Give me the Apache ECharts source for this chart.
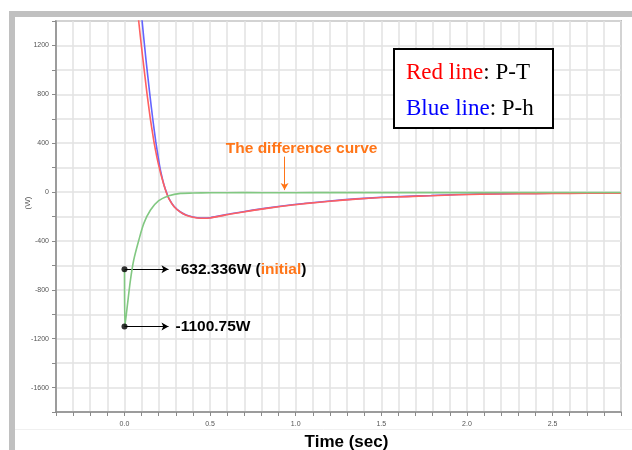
<!DOCTYPE html>
<html>
<head>
<meta charset="utf-8">
<script src="https://cdn.jsdelivr.net/npm/echarts@6/dist/echarts.min.js"></script>
<style>
  html, body { margin: 0; padding: 0; background: #fff; }
  #chart { width: 632px; height: 450px; }
</style>
</head>
<body>
<div id="chart"></div>
<script>
// time (sec) / power (W)
const redTimes   = [0, 0.04, 0.083, 0.1, 0.132, 0.15, 0.171, 0.19, 0.21, 0.23, 0.245, 0.26, 0.29, 0.327, 0.36, 0.4, 0.444, 0.5, 0.62, 0.75, 0.91, 1.05, 1.2, 1.35, 1.5, 1.65, 1.79, 1.95, 2.08, 2.3, 2.5, 2.7, 2.9]
const redValues  = [3000, 2100, 1400, 1180, 800, 610, 420, 280, 160, 60, -5, -55, -120, -165, -190, -206, -214, -212, -180, -150, -118, -95, -75, -58, -45, -37, -30, -22, -17, -14, -12, -10, -9]

const blueTimes  = [0, 0.04, 0.103, 0.125, 0.148, 0.165, 0.183, 0.2, 0.21, 0.23, 0.245, 0.26, 0.29, 0.327, 0.36, 0.4, 0.444, 0.5, 0.62, 0.75, 0.91, 1.05, 1.2, 1.35, 1.5, 1.65, 1.79, 1.95, 2.08, 2.3, 2.5, 2.7, 2.9]
const blueValues = [3632, 2500, 1400, 1090, 800, 600, 410, 260, 180, 62, -2, -53, -118, -163, -188, -204, -212, -210, -178, -148, -116, -93, -73, -56, -43, -35, -28, -20, -15, -12, -10, -8, -7]

const diffTimes  = [0, 0.002, 0.016, 0.035, 0.054, 0.084, 0.113, 0.152, 0.2, 0.259, 0.327, 0.4, 0.5, 0.7, 0.9, 1.1, 1.4, 1.8, 2.2, 2.6, 2.9]
const diffValues = [-632.336, -1100.75, -937, -719, -556, -392, -256, -147, -71, -30, -11, -8, -6, -5, -6, -5, -5, -5, -4, -4, -4]

const initialPoints = [[0, -632.336], [0, -1100.75]]

const xTicks = { min: -0.4, max: 2.9, step: 0.1, labelEvery: 0.5 }
const yTicks = { min: -1800, max: 1400, step: 200, labelEvery: 400 }

const ORANGE = '#ff7518'

function pairs(xs, ys) {
  return xs.map((x, i) => [x, ys[i]])
}

const chart = echarts.init(document.getElementById('chart'), null, { renderer: 'canvas' })

const tickLabel = { fontSize: 7, color: '#555', fontFamily: 'Liberation Sans' }
const noteFont = { fontSize: 15.5, fontWeight: 'bold', fontFamily: 'Liberation Sans' }

chart.setOption({
  animation: false,
  backgroundColor: '#fff',
  grid: {
    left: 56, top: 21, right: 11, bottom: 38,
    outerBoundsMode: 'none', containLabel: false,
    show: true, borderColor: '#8a8a8a', borderWidth: 1.5, backgroundColor: '#fff'
  },
  xAxis: {
    type: 'value',
    min: xTicks.min, max: xTicks.max, interval: xTicks.step,
    name: 'Time (sec)', nameLocation: 'middle', nameGap: 22,
    nameTextStyle: { fontSize: 17, fontWeight: 'bold', color: '#000', fontFamily: 'Liberation Sans', padding: [0, 0, 0, 16] },
    axisLine: { onZero: false, lineStyle: { color: '#8a8a8a', width: 1.5 } },
    axisTick: { show: true, length: 4, lineStyle: { color: '#8a8a8a' } },
    axisLabel: {
      ...tickLabel, margin: 9, showMinLabel: true, showMaxLabel: true,
      formatter: v => (Math.round(v * 10) % Math.round(xTicks.labelEvery * 10) === 0 ? (Math.round(v * 10) / 10).toFixed(1) : '')
    },
    splitLine: { show: true, lineStyle: { color: '#e2e2e2', width: 1.5 } }
  },
  yAxis: {
    type: 'value',
    min: yTicks.min, max: yTicks.max, interval: yTicks.step,
    axisLine: { show: true, onZero: false, lineStyle: { color: '#8a8a8a', width: 1.5 } },
    axisTick: { show: true, length: 4, lineStyle: { color: '#8a8a8a' } },
    axisLabel: {
      ...tickLabel, margin: 7,
      formatter: v => (Math.round(v) % yTicks.labelEvery === 0 ? String(Math.round(v)) : '')
    },
    splitLine: { show: true, lineStyle: { color: '#e2e2e2', width: 1.5 } }
  },
  series: [
    {
      name: 'P-h', type: 'line', data: pairs(blueTimes, blueValues),
      showSymbol: false, clip: true, smooth: 0.15,
      lineStyle: { color: '#6464ff', width: 1.6 }, z: 3
    },
    {
      name: 'P-T', type: 'line', data: pairs(redTimes, redValues),
      showSymbol: false, clip: true, smooth: 0.15,
      lineStyle: { color: '#ff6060', width: 1.6 }, z: 4
    },
    {
      name: 'difference', type: 'line', data: pairs(diffTimes, diffValues),
      showSymbol: false, clip: true, smooth: 0.3,
      lineStyle: { color: '#82c882', width: 1.6 }, z: 5,
      markLine: {
        silent: true, symbol: ['none', 'arrow'], symbolSize: [6, 7],
        lineStyle: { color: ORANGE, width: 1, type: 'solid' },
        label: {
          show: true, position: 'start', distance: 0, offset: [17, 0],
          color: ORANGE, ...noteFont,
          formatter: 'The difference curve'
        },
        data: [[{ coord: [0.935, 290] }, { coord: [0.935, 16] }]]
      }
    },
    {
      name: 'initial', type: 'scatter', data: initialPoints,
      symbol: 'circle', symbolSize: 6, itemStyle: { color: '#000' }, z: 6,
      markLine: {
        silent: true, symbol: ['none', 'arrow'], symbolSize: [6, 7],
        lineStyle: { color: '#000', width: 1, type: 'solid' },
        label: {
          show: true, position: 'end', distance: 7,
          color: '#000', ...noteFont,
          rich: { o: { color: ORANGE, ...noteFont } }
        },
        data: [
          [{ coord: initialPoints[0] }, { coord: [0.257, initialPoints[0][1]], label: { formatter: '-632.336W ({o|initial})' } }],
          [{ coord: initialPoints[1] }, { coord: [0.257, initialPoints[1][1]], label: { formatter: '-1100.75W' } }]
        ]
      }
    }
  ],
  graphic: [
    // grey frame of the original screenshot
    { type: 'rect', z: 100, shape: { x: 9, y: 11, width: 623, height: 6 }, style: { fill: '#c0c0c0' }, silent: true },
    { type: 'rect', z: 100, shape: { x: 9, y: 11, width: 6, height: 439 }, style: { fill: '#c0c0c0' }, silent: true },
    { type: 'line', z: 100, shape: { x1: 15, y1: 429.5, x2: 632, y2: 429.5 }, style: { stroke: '#f0f0f0', lineWidth: 1 }, silent: true },
    {
      type: 'text', z: 100, x: 28, y: 203, rotation: Math.PI / 2,
      style: { text: '(W)', fontSize: 8, fill: '#555', fontFamily: 'Liberation Sans', align: 'center', verticalAlign: 'middle' }
    },
    // legend box
    {
      type: 'group', left: 393, top: 48, z: 100,
      children: [
        { type: 'rect', z: 100, shape: { x: 0, y: 0, width: 159, height: 79 }, style: { fill: '#fff', stroke: '#000', lineWidth: 2 } },
        {
          type: 'text', z: 101, x: 12, y: 24,
          style: {
            text: '{r|Red line}: P-T', fontSize: 23, fontFamily: 'Liberation Serif', fill: '#000', verticalAlign: 'middle',
            rich: { r: { fill: '#ff0000', fontSize: 23, fontFamily: 'Liberation Serif' } }
          }
        },
        {
          type: 'text', z: 101, x: 12, y: 60,
          style: {
            text: '{b|Blue line}: P-h', fontSize: 23, fontFamily: 'Liberation Serif', fill: '#000', verticalAlign: 'middle',
            rich: { b: { fill: '#0000ff', fontSize: 23, fontFamily: 'Liberation Serif' } }
          }
        }
      ]
    }
  ]
})
</script>
</body>
</html>
